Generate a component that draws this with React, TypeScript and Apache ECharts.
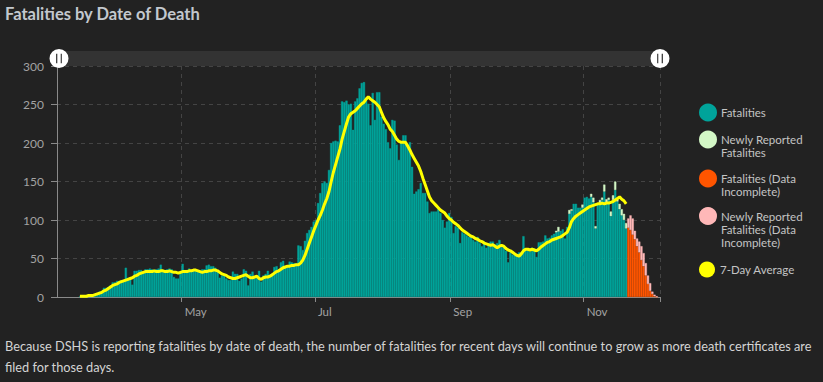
import React, { useEffect, useRef } from 'react';
import * as echarts from 'echarts';

// ---- categories: one per day, 5 Mar 2020 .. 5 Dec 2020 ----
const START_UTC = Date.UTC(2020, 2, 5);
const DAY_COUNT = 276;
const dates: string[] = Array.from({ length: DAY_COUNT }, (_, i) =>
  new Date(START_UTC + i * 86400000).toISOString().slice(0, 10)
);
const tickMonths = ['05', '07', '09', '11'];
const monthLabels: Record<string, string> = { '05': 'May', '07': 'Jul', '09': 'Sep', '11': 'Nov' };
const yTicks = [0, 50, 100, 150, 200, 250, 300];

// ---- Fatalities (complete data) by month ----
const fatalitiesMar = [null, null, null, null, null, null, null, null, null, null, 1, 1, 1, 2, 2, 3, 3, 4, 5, 7, 8, 12, 12, 13, 15, 19, 19];
const fatalitiesApr = [21, 21, 22, 22, 38, 25, 25, 16, 34, 34, 35, 35, 32, 36, 36, 37, 36, 35, 36, 37, 42, 35, 35, 36, 37, 36, 26, 24, 24, 33];
const fatalitiesMay = [43, 35, 35, 37, 34, 34, 35, 33, 32, 36, 36, 41, 42, 40, 40, 38, 33, 25, 28, 30, 24, 22, 22, 33, 30, 30, 21, 24, 36, 34, 15];
const fatalitiesJun = [30, 33, 24, 25, 34, 20, 28, 30, 34, 29, 30, 39, 40, 36, 45, 47, 40, 41, 46, 45, 44, 44, 67, 66, 61, 73, 83, 87, 91, 98];
const fatalitiesJul = [100, 122, 135, 148, 150, 148, 165, 200, 202, 203, 202, 223, 254, 253, 255, 250, 251, 217, 254, 258, 271, 278, 279, 255, 251, 223, 265, 230, 266, 266, 234];
const fatalitiesAug = [225, 218, 201, 193, 230, 229, 198, 178, 201, 210, 210, 198, 201, 169, 134, 137, 140, 148, 135, 135, 124, 109, 111, 111, 111, 114, 109, 100, 90, 98, 109];
const fatalitiesSep = [104, 83, 92, 90, 70, 84, 82, 80, 78, 80, 74, 72, 78, 70, 66, 72, 64, 70, 72, 72, 68, 70, 74, 66, 64, 60, 45, 58, 55, 57];
const fatalitiesOct = [56, 58, 57, 79, 61, 62, 59, 64, 63, 52, 71, 71, 72, 80, 76, 77, 80, 82, 84, 85, 86, 88, 76, 91, 108, 112, 121, 121, 116, 116, 116];
const fatalitiesNov = [129, 130, 128, 130, 123, 89, 121, 122, 126, 137, 123, 126, 105, 126, 139, 124, 114, 106, 100, 89];

// ---- Newly reported fatalities (from 1 Oct) ----
const newlyReportedOct = [null, null, null, null, null, null, null, null, null, null, null, null, null, null, null, null, null, null, 2, 6, null, null, null, null, 5, 2, null, null, null, null, 4];
const newlyReportedNov = [null, null, null, 4, 6, 3, null, 4, 3, 9, 4, 3, 6, 6, 11, 3, 7, 8, 8, 7];

// ---- Data incomplete (from 21 Nov) ----
const incompleteNov = [90, 87, 81, 75, 66, 58, 48, 40, 28, 17];
const incompleteDec = [8, 4, 1, 0];
const newlyIncompleteNov = [12, 19, 21, 11, 10, 14, 18, 17, 16, 11];
const newlyIncompleteDec = [10, 3, 2, 1];

// ---- 7-day average by month ----
const avgMar = [null, null, null, null, null, null, null, null, null, null, 1, 1, 1, 1, 2, 2, 2, 3, 4, 5, 6, 8, 9, 11, 13, 15, 16];
const avgApr = [17, 19, 20, 21, 22, 23, 24, 25, 27, 28, 30, 31, 32, 33, 33, 33, 33, 34, 33, 33, 34, 34, 33, 33, 34, 33, 32, 32, 31, 32];
const avgMay = [33, 33, 33, 34, 34, 35, 35, 34, 33, 32, 33, 33, 34, 34, 35, 35, 34, 32, 30, 29, 28, 26, 25, 24, 24, 25, 26, 27, 28, 29, 27];
const avgJun = [25, 25, 26, 27, 24, 23, 25, 26, 26, 27, 29, 31, 33, 34, 36, 38, 39, 40, 40, 41, 41, 42, 42, 44, 48, 54, 62, 70, 78, 86];
const avgJul = [93, 100, 106, 113, 121, 128, 137, 150, 162, 172, 182, 192, 205, 215, 225, 234, 238, 240, 242, 245, 248, 251, 253, 257, 260, 257, 255, 253, 250, 247, 240];
const avgAug = [233, 228, 224, 218, 215, 210, 205, 202, 201, 201, 201, 196, 191, 185, 180, 175, 170, 163, 154, 146, 138, 130, 125, 122, 119, 116, 113, 111, 109, 105, 102];
const avgSep = [100, 97, 95, 93, 90, 87, 85, 83, 81, 79, 78, 76, 75, 73, 72, 70, 69, 68, 67, 68, 66, 64, 66, 67, 66, 63, 61, 60, 58, 56];
const avgOct = [54, 53, 56, 60, 62, 62, 61, 62, 61, 60, 62, 65, 67, 69, 71, 72, 74, 75, 76, 77, 78, 80, 82, 84, 90, 98, 102, 105, 107, 109, 111];
const avgNov = [113, 115, 117, 118, 119, 120, 121, 121, 122, 121, 122, 122, 123, 124, 126, 128, 130, 127, 125, 121];

const footerText =
  'Because DSHS is reporting fatalities by date of death, the number of fatalities for recent days will continue to grow as more death certificates are\nfiled for those days.';

function placeAt(startDay: string, values: (number | null)[]): (number | null)[] {
  const out: (number | null)[] = dates.map(() => null);
  const s = dates.indexOf(startDay);
  values.forEach((v, k) => {
    if (s + k < out.length) out[s + k] = v;
  });
  return out;
}

const isMonthTick = (value: string) => value.slice(8) === '01' && tickMonths.includes(value.slice(5, 7));

const FONT = 'Lato, "Open Sans", sans-serif';

export default function App() {
  const ref = useRef<HTMLDivElement>(null);

  useEffect(() => {
    if (!ref.current) return;
    const chart = echarts.init(ref.current, null, { renderer: 'svg' });

    const fatalities = placeAt('2020-03-05', [
      ...fatalitiesMar, ...fatalitiesApr, ...fatalitiesMay, ...fatalitiesJun, ...fatalitiesJul,
      ...fatalitiesAug, ...fatalitiesSep, ...fatalitiesOct, ...fatalitiesNov,
    ]);
    const newly = placeAt('2020-10-01', [...newlyReportedOct, ...newlyReportedNov]);
    const incomplete = placeAt('2020-11-21', [...incompleteNov, ...incompleteDec]);
    const newlyIncomplete = placeAt('2020-11-21', [...newlyIncompleteNov, ...newlyIncompleteDec]);
    const avg = placeAt('2020-03-05', [
      ...avgMar, ...avgApr, ...avgMay, ...avgJun, ...avgJul, ...avgAug, ...avgSep, ...avgOct, ...avgNov,
    ]);

    const legendBase: any = {
      orient: 'vertical',
      left: 699,
      padding: 0,
      itemWidth: 16,
      itemHeight: 16,
      icon: 'circle',
      selectedMode: false,
      textStyle: { color: '#c4c4c4', fontSize: 11.5, fontFamily: FONT, lineHeight: 13 },
    };

    const barStyle = (color: string) => ({ color, borderColor: color, borderWidth: 0.4 });

    const option: any = {
      animation: false,
      backgroundColor: '#222222',
      title: {
        text: 'Fatalities by Date of Death',
        left: 5,
        top: 5,
        padding: 0,
        textStyle: { color: '#c3c8ce', fontSize: 16.5, fontWeight: 'bold', fontFamily: FONT },
      },
      legend: [
        { ...legendBase, top: 103.5, data: [{ name: 'Fatalities' }] },
        {
          ...legendBase, top: 120,
          formatter: () => '\nNewly Reported\nFatalities',
          data: [{ name: 'Newly Reported Fatalities' }],
        },
        {
          ...legendBase, top: 159,
          formatter: () => '\nFatalities (Data\nIncomplete)',
          data: [{ name: 'Fatalities (Data Incomplete)' }],
        },
        {
          ...legendBase, top: 183.5,
          formatter: () => '\n\nNewly Reported\nFatalities (Data\nIncomplete)',
          data: [{ name: 'Newly Reported Fatalities (Data Incomplete)' }],
        },
        { ...legendBase, top: 261.5, data: [{ name: '7-Day Average' }] },
      ],
      grid: { left: 57, right: 163, top: 66, bottom: 85, containLabel: false },
      dataZoom: [
        {
          type: 'slider',
          xAxisIndex: 0,
          left: 57,
          right: 163,
          top: 51,
          height: 15,
          start: 0,
          end: 100,
          backgroundColor: '#333333',
          borderColor: 'transparent',
          fillerColor: 'rgba(0,0,0,0)',
          showDetail: false,
          showDataShadow: false,
          brushSelect: false,
          moveHandleSize: 0,
          handleIcon:
            'path://M0,-10A10,10,0,1,1,0,10A10,10,0,1,1,0,-10ZM-3,-5L-3,5L-1.8,5L-1.8,-5ZM1.8,-5L1.8,5L3,5L3,-5Z',
          handleSize: 19,
          handleStyle: { color: '#ffffff', borderWidth: 0, borderColor: '#ffffff' },
          emphasis: { handleStyle: { color: '#ffffff', borderWidth: 0 } },
          dataBackground: { lineStyle: { opacity: 0 }, areaStyle: { opacity: 0 } },
          selectedDataBackground: { lineStyle: { opacity: 0 }, areaStyle: { opacity: 0 } },
        },
      ],
      xAxis: {
        type: 'category',
        data: dates,
        boundaryGap: true,
        axisLine: { lineStyle: { color: '#8a8a8a', width: 1 } },
        axisTick: {
          show: true,
          length: 5,
          interval: (_i: number, v: string) => isMonthTick(v),
          lineStyle: { color: '#8a8a8a' },
        },
        axisLabel: {
          interval: (_i: number, v: string) => isMonthTick(v),
          formatter: (v: string) => monthLabels[v.slice(5, 7)] ?? '',
          color: '#a3a3a3',
          fontSize: 11.5,
          fontFamily: FONT,
          align: 'left',
          padding: [0, 0, 0, 2],
          margin: 8,
        },
        splitLine: {
          show: true,
          interval: (_i: number, v: string) => isMonthTick(v),
          lineStyle: { color: '#444444', type: [4, 4] },
        },
      },
      yAxis: {
        type: 'value',
        min: yTicks[0],
        max: yTicks[yTicks.length - 1],
        interval: 50,
        axisLine: { show: true, lineStyle: { color: '#8a8a8a' } },
        axisTick: { show: true, length: 6, lineStyle: { color: '#8a8a8a' } },
        axisLabel: { color: '#a3a3a3', fontSize: 12, fontFamily: FONT, margin: 13 },
        splitLine: { show: true, lineStyle: { color: '#444444', type: [4, 4] } },
      },
      graphic: [
        {
          type: 'text',
          left: 5,
          top: 335,
          style: {
            text: footerText,
            fill: '#d4d4d4',
            font: `12.75px ${FONT}`,
            lineHeight: 21,
          },
        },
      ],
      series: [
        {
          name: 'Fatalities',
          type: 'bar',
          stack: 'deaths',
          data: fatalities,
          barCategoryGap: '0%',
          itemStyle: barStyle('#00a39a'),
        },
        {
          name: 'Newly Reported Fatalities',
          type: 'bar',
          stack: 'deaths',
          data: newly,
          barCategoryGap: '0%',
          itemStyle: barStyle('#d3f7c6'),
        },
        {
          name: 'Fatalities (Data Incomplete)',
          type: 'bar',
          stack: 'deaths',
          data: incomplete,
          barCategoryGap: '0%',
          itemStyle: barStyle('#ff5500'),
        },
        {
          name: 'Newly Reported Fatalities (Data Incomplete)',
          type: 'bar',
          stack: 'deaths',
          data: newlyIncomplete,
          barCategoryGap: '0%',
          itemStyle: barStyle('#ffb8b8'),
        },
        {
          name: '7-Day Average',
          type: 'line',
          data: avg,
          showSymbol: false,
          symbol: 'none',
          z: 10,
          itemStyle: { color: '#ffff00' },
          lineStyle: { color: '#ffff00', width: 3 },
        },
      ],
    };

    chart.setOption(option);
    return () => chart.dispose();
  }, []);

  return (
    <div
      ref={ref}
      style={{ position: 'absolute', left: 0, top: 0, width: 823, height: 382, background: '#222222' }}
    />
  );
}
